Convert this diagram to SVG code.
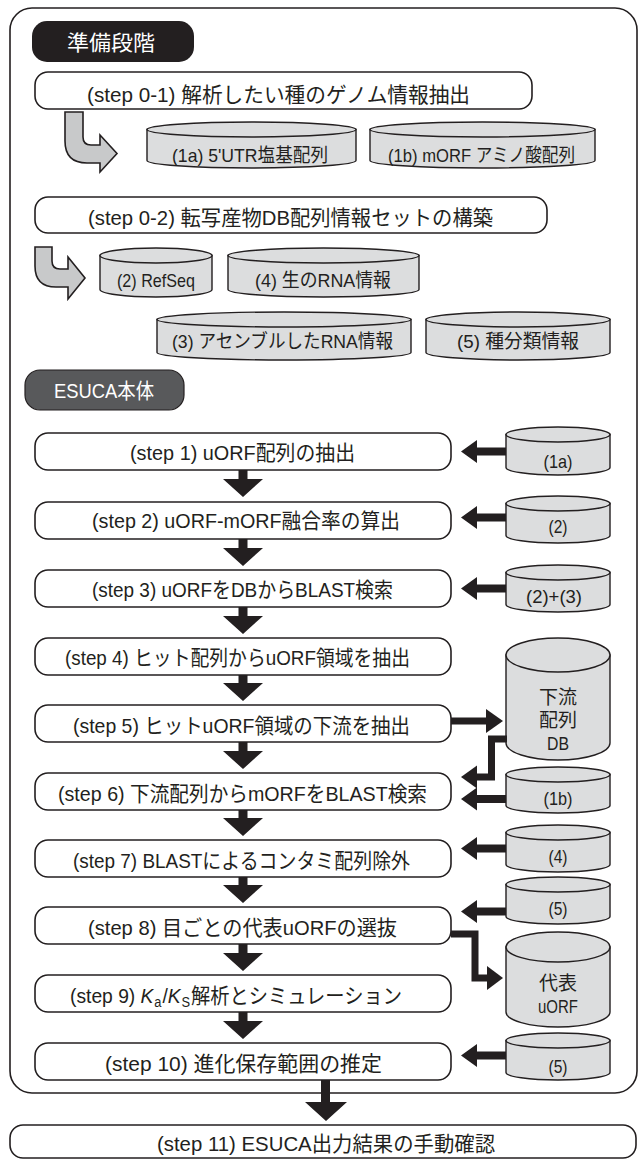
<svg xmlns="http://www.w3.org/2000/svg" width="640" height="1160" viewBox="0 0 640 1160">
<defs>
<style>
.t{font-family:"Liberation Sans","Noto Sans CJK JP",sans-serif;fill:#231f20;text-anchor:middle}
.s{font-size:21px}
.c{font-size:19px}
.r{font-size:19px}
.w{fill:#ffffff}
.box{fill:#ffffff;stroke:#231f20;stroke-width:1.6}
.cyl{fill:#dcddde;stroke:#231f20;stroke-width:1.4}
.ar{fill:#231f20;stroke:none}
.ln{fill:none;stroke:#231f20;stroke-width:7;stroke-linejoin:miter}
.ga{fill:#c8c9ca;stroke:#231f20;stroke-width:1.6;stroke-linejoin:miter}
</style>
</defs>
<rect x="10" y="8" width="627" height="1085" rx="22" fill="#ffffff" stroke="#231f20" stroke-width="1.6"/>

<g id="badge-prep">
<rect x="32" y="21" width="162" height="41" rx="15" fill="#231f20"/>
<text class="t w" x="111" y="50" font-size="21" textLength="88" lengthAdjust="spacingAndGlyphs">準備段階</text>
</g>

<g id="step0-1">
<rect class="box" x="35" y="72" width="497" height="37" rx="13"/>
<text class="t s" x="278.5" y="102" textLength="383" lengthAdjust="spacingAndGlyphs">(step 0-1) 解析したい種のゲノム情報抽出</text>
</g>

<g id="db-1a-top">
<path class="cyl" d="M147,129.5 L147,160.5 A104.5,7.5 0 0 0 356,160.5 L356,129.5 Z"/>
<ellipse class="cyl" cx="251.5" cy="129.5" rx="104.5" ry="7.5"/>
<text class="t c" x="250" y="162" textLength="156" lengthAdjust="spacingAndGlyphs">(1a) 5'UTR塩基配列</text>
</g>
<g id="db-1b-top">
<path class="cyl" d="M370,129.5 L370,160.5 A112.5,7.5 0 0 0 595,160.5 L595,129.5 Z"/>
<ellipse class="cyl" cx="482.5" cy="129.5" rx="112.5" ry="7.5"/>
<text class="t c" x="481.5" y="162" textLength="187" lengthAdjust="spacingAndGlyphs">(1b) mORF アミノ酸配列</text>
</g>

<g id="step0-2">
<rect class="box" x="35" y="197" width="512" height="36" rx="13"/>
<text class="t s" x="290.5" y="225" textLength="405" lengthAdjust="spacingAndGlyphs">(step 0-2) 転写産物DB配列情報セットの構築</text>
</g>

<g id="db-2-top">
<path class="cyl" d="M100,255.5 L100,289.5 A56,7.5 0 0 0 212,289.5 L212,255.5 Z"/>
<ellipse class="cyl" cx="156" cy="255.5" rx="56" ry="7.5"/>
<text class="t c" x="156" y="287" textLength="78" lengthAdjust="spacingAndGlyphs">(2) RefSeq</text>
</g>
<g id="db-4-top">
<path class="cyl" d="M228,255.5 L228,289.5 A95.5,7.5 0 0 0 419,289.5 L419,255.5 Z"/>
<ellipse class="cyl" cx="323.5" cy="255.5" rx="95.5" ry="7.5"/>
<text class="t c" x="323" y="287" textLength="136" lengthAdjust="spacingAndGlyphs">(4) 生のRNA情報</text>
</g>
<g id="db-3-top">
<path class="cyl" d="M157,319.5 L157,352.5 A127,7.5 0 0 0 411,352.5 L411,319.5 Z"/>
<ellipse class="cyl" cx="284" cy="319.5" rx="127" ry="7.5"/>
<text class="t c" x="282.5" y="348" textLength="221" lengthAdjust="spacingAndGlyphs">(3) アセンブルしたRNA情報</text>
</g>
<g id="db-5-top">
<path class="cyl" d="M426,319.5 L426,352.5 A92,7.5 0 0 0 610,352.5 L610,319.5 Z"/>
<ellipse class="cyl" cx="518" cy="319.5" rx="92" ry="7.5"/>
<text class="t c" x="518" y="348" textLength="122" lengthAdjust="spacingAndGlyphs">(5) 種分類情報</text>
</g>

<g id="badge-esuca">
<rect x="25" y="370" width="159" height="40" rx="15" fill="#58595b" stroke="#231f20" stroke-width="1.2"/>
<text class="t w" x="104" y="398" font-size="21" textLength="100" lengthAdjust="spacingAndGlyphs">ESUCA本体</text>
</g>

<g id="step1"><rect class="box" x="35" y="433" width="416" height="37" rx="13"/>
<text class="t s" x="242.5" y="460" textLength="225" lengthAdjust="spacingAndGlyphs">(step 1) uORF配列の抽出</text></g>
<g id="step2"><rect class="box" x="35" y="502" width="416" height="37" rx="13"/>
<text class="t s" x="246" y="528" textLength="308" lengthAdjust="spacingAndGlyphs">(step 2) uORF-mORF融合率の算出</text></g>
<g id="step3"><rect class="box" x="35" y="570" width="416" height="37" rx="13"/>
<text class="t s" x="242.5" y="597" textLength="301" lengthAdjust="spacingAndGlyphs">(step 3) uORFをDBからBLAST検索</text></g>
<g id="step4"><rect class="box" x="35" y="638" width="416" height="37" rx="13"/>
<text class="t s" x="237.5" y="665" textLength="345" lengthAdjust="spacingAndGlyphs">(step 4) ヒット配列からuORF領域を抽出</text></g>
<g id="step5"><rect class="box" x="35" y="705" width="416" height="37" rx="13"/>
<text class="t s" x="241.5" y="733" textLength="337" lengthAdjust="spacingAndGlyphs">(step 5) ヒットuORF領域の下流を抽出</text></g>
<g id="step6"><rect class="box" x="35" y="773" width="416" height="37" rx="13"/>
<text class="t s" x="242.5" y="801" textLength="369" lengthAdjust="spacingAndGlyphs">(step 6) 下流配列からmORFをBLAST検索</text></g>
<g id="step7"><rect class="box" x="35" y="840" width="416" height="37" rx="13"/>
<text class="t s" x="241.5" y="868" textLength="337" lengthAdjust="spacingAndGlyphs">(step 7) BLASTによるコンタミ配列除外</text></g>
<g id="step8"><rect class="box" x="35" y="907" width="416" height="37" rx="13"/>
<text class="t s" x="242.5" y="935" textLength="309" lengthAdjust="spacingAndGlyphs">(step 8) 目ごとの代表uORFの選抜</text></g>
<g id="step9"><rect class="box" x="35" y="975" width="416" height="37" rx="13"/>
<text class="t s" x="236" y="1003" textLength="332" lengthAdjust="spacingAndGlyphs">(step 9) <tspan font-style="italic">K</tspan><tspan font-size="14" dx="1" dy="4">a</tspan><tspan dx="1" dy="-4">/</tspan><tspan font-style="italic">K</tspan><tspan font-size="14" dx="1" dy="4">S</tspan><tspan dx="1" dy="-4">解析とシミュレーション</tspan></text></g>
<g id="step10"><rect class="box" x="35" y="1043" width="416" height="37" rx="13"/>
<text class="t s" x="243.5" y="1071" textLength="277" lengthAdjust="spacingAndGlyphs">(step 10) 進化保存範囲の推定</text></g>
<g id="step11"><rect class="box" x="10" y="1125" width="626" height="33" rx="13"/>
<text class="t s" x="326" y="1151" textLength="338" lengthAdjust="spacingAndGlyphs">(step 11) ESUCA出力結果の手動確認</text></g>

<g id="db-1a"><path class="cyl" d="M506,434.5 L506,467.5 A52,7.5 0 0 0 610,467.5 L610,434.5 Z"/><ellipse class="cyl" cx="558" cy="434.5" rx="52" ry="7.5"/>
<text class="t r" x="558" y="468" textLength="29" lengthAdjust="spacingAndGlyphs">(1a)</text></g>
<g id="db-2"><path class="cyl" d="M506,503.5 L506,535.5 A52,7.5 0 0 0 610,535.5 L610,503.5 Z"/><ellipse class="cyl" cx="558" cy="503.5" rx="52" ry="7.5"/>
<text class="t r" x="558" y="533" textLength="19" lengthAdjust="spacingAndGlyphs">(2)</text></g>
<g id="db-23"><path class="cyl" d="M506,572.5 L506,604.5 A52,7.5 0 0 0 610,604.5 L610,572.5 Z"/><ellipse class="cyl" cx="558" cy="572.5" rx="52" ry="7.5"/>
<text class="t r" x="554" y="603" textLength="56" lengthAdjust="spacingAndGlyphs">(2)+(3)</text></g>
<g id="db-down"><path class="cyl" d="M506,655 L506,743 A52,17 0 0 0 610,743 L610,655 Z"/><ellipse class="cyl" cx="558" cy="655" rx="52" ry="17"/>
<text class="t c" x="558" y="704">下流</text><text class="t c" x="558" y="727">配列</text><text class="t c" x="558" y="750" textLength="22" lengthAdjust="spacingAndGlyphs">DB</text></g>
<g id="db-1b"><path class="cyl" d="M506,774.5 L506,805.5 A52,7.5 0 0 0 610,805.5 L610,774.5 Z"/><ellipse class="cyl" cx="558" cy="774.5" rx="52" ry="7.5"/>
<text class="t r" x="558" y="805" textLength="29" lengthAdjust="spacingAndGlyphs">(1b)</text></g>
<g id="db-4"><path class="cyl" d="M506,832.5 L506,864.5 A52,7.5 0 0 0 610,864.5 L610,832.5 Z"/><ellipse class="cyl" cx="558" cy="832.5" rx="52" ry="7.5"/>
<text class="t r" x="558" y="863" textLength="19" lengthAdjust="spacingAndGlyphs">(4)</text></g>
<g id="db-5a"><path class="cyl" d="M506,884.5 L506,916.5 A52,7.5 0 0 0 610,916.5 L610,884.5 Z"/><ellipse class="cyl" cx="558" cy="884.5" rx="52" ry="7.5"/>
<text class="t r" x="558" y="915" textLength="19" lengthAdjust="spacingAndGlyphs">(5)</text></g>
<g id="db-rep"><path class="cyl" d="M506,947 L506,1012 A52,15 0 0 0 610,1012 L610,947 Z"/><ellipse class="cyl" cx="558" cy="947" rx="52" ry="15"/>
<text class="t c" x="558" y="990">代表</text><text class="t c" x="558" y="1013" textLength="40" lengthAdjust="spacingAndGlyphs">uORF</text></g>
<g id="db-5b"><path class="cyl" d="M506,1040.5 L506,1072.5 A52,7.5 0 0 0 610,1072.5 L610,1040.5 Z"/><ellipse class="cyl" cx="558" cy="1040.5" rx="52" ry="7.5"/>
<text class="t r" x="558" y="1073" textLength="19" lengthAdjust="spacingAndGlyphs">(5)</text></g>

<g id="connectors">
<path class="ga" d="M65,112 L83,112 L83,137 Q83,145 91,145 L100,145 L100,135 L117,153.5 L100,172 L100,163 L87,163 Q65,163 65,141 Z"/>
<path class="ga" d="M35,247 L52,247 L52,261 Q52,269 60,269 L68,269 L68,257 L85,278 L68,299 L68,287 L56,287 Q35,287 35,266 Z"/>

<path class="ar" d="M238.5,470 L247.5,470 L247.5,479 L263,479 L243,497 L223,479 L238.5,479 Z"/>
<path class="ar" d="M238.5,539 L247.5,539 L247.5,548 L263,548 L243,566 L223,548 L238.5,548 Z"/>
<path class="ar" d="M238.5,607 L247.5,607 L247.5,616 L263,616 L243,634 L223,616 L238.5,616 Z"/>
<path class="ar" d="M238.5,675 L247.5,675 L247.5,683 L263,683 L243,701 L223,683 L238.5,683 Z"/>
<path class="ar" d="M238.5,742 L247.5,742 L247.5,751 L263,751 L243,769 L223,751 L238.5,751 Z"/>
<path class="ar" d="M238.5,810 L247.5,810 L247.5,818 L263,818 L243,836 L223,818 L238.5,818 Z"/>
<path class="ar" d="M238.5,877 L247.5,877 L247.5,885 L263,885 L243,903 L223,885 L238.5,885 Z"/>
<path class="ar" d="M238.5,944 L247.5,944 L247.5,953 L263,953 L243,971 L223,953 L238.5,953 Z"/>
<path class="ar" d="M238.5,1012 L247.5,1012 L247.5,1021 L263,1021 L243,1039 L223,1021 L238.5,1021 Z"/>
<path class="ar" d="M321,1080 L330,1080 L330,1102 L347,1102 L326,1121 L305,1102 L321,1102 Z"/>

<path class="ar" d="M506,447.5 L477,447.5 L477,440 L461,451.5 L477,463 L477,455.5 L506,455.5 Z"/>
<path class="ar" d="M506,513.5 L477,513.5 L477,506 L461,517.5 L477,529 L477,521.5 L506,521.5 Z"/>
<path class="ar" d="M506,584.5 L477,584.5 L477,577 L461,588.5 L477,600 L477,592.5 L506,592.5 Z"/>
<path class="ar" d="M506,795 L477,795 L477,787.5 L461,799 L477,810.5 L477,803 L506,803 Z"/>
<path class="ar" d="M506,844.5 L477,844.5 L477,837 L461,848.5 L477,860 L477,852.5 L506,852.5 Z"/>
<path class="ar" d="M506,907.5 L477,907.5 L477,900 L461,911.5 L477,923 L477,915.5 L506,915.5 Z"/>
<path class="ar" d="M506,1051.5 L477,1051.5 L477,1044 L461,1055.5 L477,1067 L477,1059.5 L506,1059.5 Z"/>

<path class="ln" d="M451,721 L487,721"/>
<path class="ar" d="M486,709 L503,721 L486,733 Z"/>
<path class="ln" d="M507,739 L491.5,739 L491.5,777 L476,777"/>
<path class="ar" d="M477,765.5 L461,777 L477,788.5 Z"/>
<path class="ln" d="M451,934 L475,934 L475,978 L488,978"/>
<path class="ar" d="M487,966 L503,978 L487,990 Z"/>
</g>
</svg>
